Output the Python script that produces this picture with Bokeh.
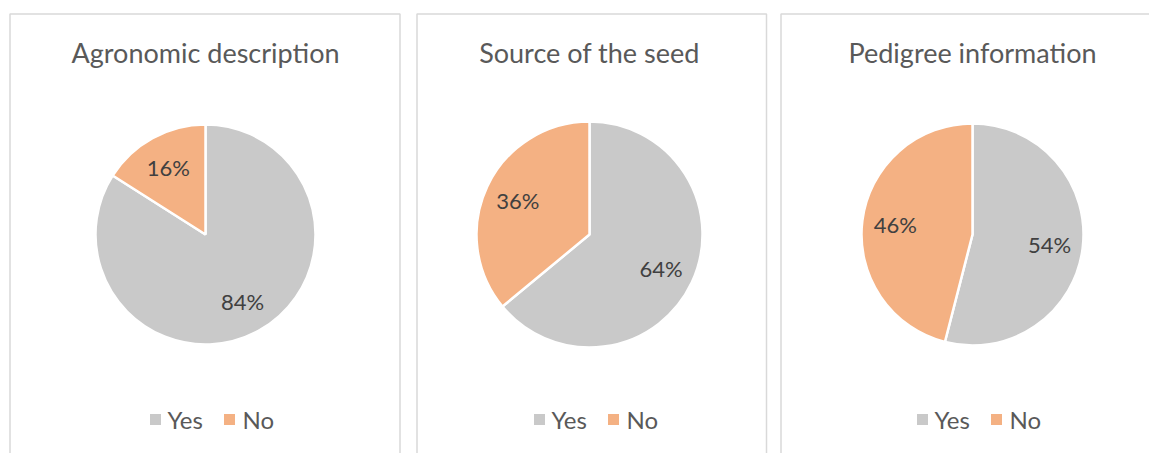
import math
from bokeh.plotting import figure
from bokeh.models import Range1d, ColumnDataSource
from bokeh.core.properties import value
from bokeh.embed import file_html
from bokeh.resources import INLINE

# ---- data ----
titles = ["Agronomic description", "Source of the seed", "Pedigree information"]
categories = ["Yes", "No"]
yes_pct = [84, 64, 54]
no_pct = [16, 36, 46]

# ---- style ----
colors = {"Yes": "#C9C9C9", "No": "#F4B183"}
FONT = "Lato"
W, H = 1149, 453
X0, Y0 = 0, 0

p = figure(width=W, height=H, output_backend="svg", toolbar_location=None,
           x_range=Range1d(X0, X0 + W), y_range=Range1d(-(Y0 + H), -Y0),
           min_border=0, outline_line_color=None, background_fill_color="white")
p.axis.visible = False
p.grid.visible = False

# layout (screen-pixel positions of the three panels)
panels = [(9.5, 399.5), (416.5, 766), (780.5, 1160)]
centers_x = [205, 589, 972]
center_y = 234
radii = [110, 113, 111]

for (l, r) in panels:
    p.quad(left=[l], right=[r], top=[-13.5], bottom=[-470], fill_color=None,
           line_color="#D9D9D9", line_width=1.5)

for i, title in enumerate(titles):
    cx, r = centers_x[i], radii[i]
    vals = {"Yes": yes_pct[i], "No": no_pct[i]}
    total = sum(vals.values())
    cum = 0.0
    starts, ends, fills, lx, ly, labels = [], [], [], [], [], []
    for c in categories:
        frac = vals[c] / total
        a0 = math.pi / 2 - cum * 2 * math.pi
        a1 = math.pi / 2 - (cum + frac) * 2 * math.pi
        mid = (a0 + a1) / 2
        starts.append(a0)
        ends.append(a1)
        fills.append(colors[c])
        lx.append(cx + 0.7 * r * math.cos(mid))
        ly.append(-center_y + 0.7 * r * math.sin(mid))
        labels.append(f"{vals[c]}%")
        cum += frac
    src = ColumnDataSource(dict(x=[cx] * 2, y=[-center_y] * 2, s=starts, e=ends,
                                f=fills, cat=categories))
    p.wedge(x="x", y="y", radius=r, start_angle="s", end_angle="e",
            direction="clock", fill_color="f", line_color="white",
            line_width=2.5, source=src)
    p.text(x=lx, y=ly, text=labels, text_align="center", text_baseline="middle",
           text_font=value(FONT), text_font_size="22px", text_color="#404040")
    # title
    p.text(x=[cx], y=[-52], text=[title], text_align="center",
           text_baseline="middle", text_font=value(FONT),
           text_font_size="27px", text_color="#595959")
    # legend
    ly_leg = -419
    p.scatter(x=[cx - 50, cx + 24], y=[ly_leg, ly_leg], marker="square", size=11,
              fill_color=[colors[c] for c in categories], line_color=None)
    p.text(x=[cx - 38, cx + 37], y=[ly_leg, ly_leg], text=categories,
           text_align="left", text_baseline="middle", text_font=value(FONT),
           text_font_size="24px", text_color="#595959")

open("out.html", "w").write(file_html(p, INLINE))
